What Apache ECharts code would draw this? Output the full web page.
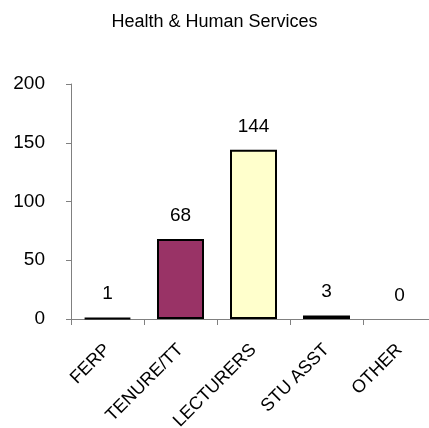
<!DOCTYPE html>
<html>
<head>
<meta charset="utf-8">
<script src="https://cdn.jsdelivr.net/npm/echarts@6/dist/echarts.min.js"></script>
<style>
  html, body { margin: 0; padding: 0; background: #fff; }
  #chart { width: 429px; height: 428px; }
</style>
</head>
<body>
<div id="chart"></div>
<script>
// 数据
var categories = ['FERP', 'TENURE/TT', 'LECTURERS', 'STU ASST', 'OTHER'];
var counts = [1, 68, 144, 3, 0];
var barColors = ['#000000', '#993366', '#FFFFCC', '#669999', '#cccccc'];
var yTicks = [0, 50, 100, 150, 200];

var FONT = '"Liberation Sans", Arial, sans-serif';

var chart = echarts.init(document.getElementById('chart'));

var option = {
    animation: false,
    title: {
        text: 'Health & Human Services',
        left: 'center',
        top: 8,
        textStyle: {
            fontFamily: FONT,
            fontSize: 18,
            fontWeight: 'normal',
            color: '#000'
        }
    },
    grid: {
        left: 71,
        top: 84,
        width: 365,
        bottom: 109,
        outerBoundsMode: 'none'
    },
    xAxis: {
        type: 'category',
        data: categories,
        axisLine: { lineStyle: { color: '#808080', width: 1 } },
        axisTick: { show: true, length: 6, lineStyle: { color: '#808080' } },
        axisLabel: {
            rotate: 45,
            margin: 28,
            fontFamily: FONT,
            fontSize: 18,
            color: '#000'
        }
    },
    yAxis: {
        type: 'value',
        min: yTicks[0],
        max: yTicks[yTicks.length - 1],
        interval: 50,
        splitLine: { show: false },
        axisLine: { show: true, lineStyle: { color: '#808080', width: 1 } },
        axisTick: { show: true, length: 5, lineStyle: { color: '#808080' } },
        axisLabel: {
            margin: 26,
            fontFamily: FONT,
            fontSize: 19,
            color: '#000'
        }
    },
    series: [
        {
            type: 'bar',
            barWidth: 47,
            data: counts.map(function (v, i) {
                return {
                    value: v,
                    itemStyle: {
                        color: barColors[i],
                        borderColor: '#000',
                        borderWidth: v > 0 ? 2 : 0
                    }
                };
            }),
            label: {
                show: true,
                position: 'top',
                distance: 14,
                fontFamily: FONT,
                fontSize: 19,
                color: '#000'
            }
        }
    ]
};

chart.setOption(option);
</script>
</body>
</html>
